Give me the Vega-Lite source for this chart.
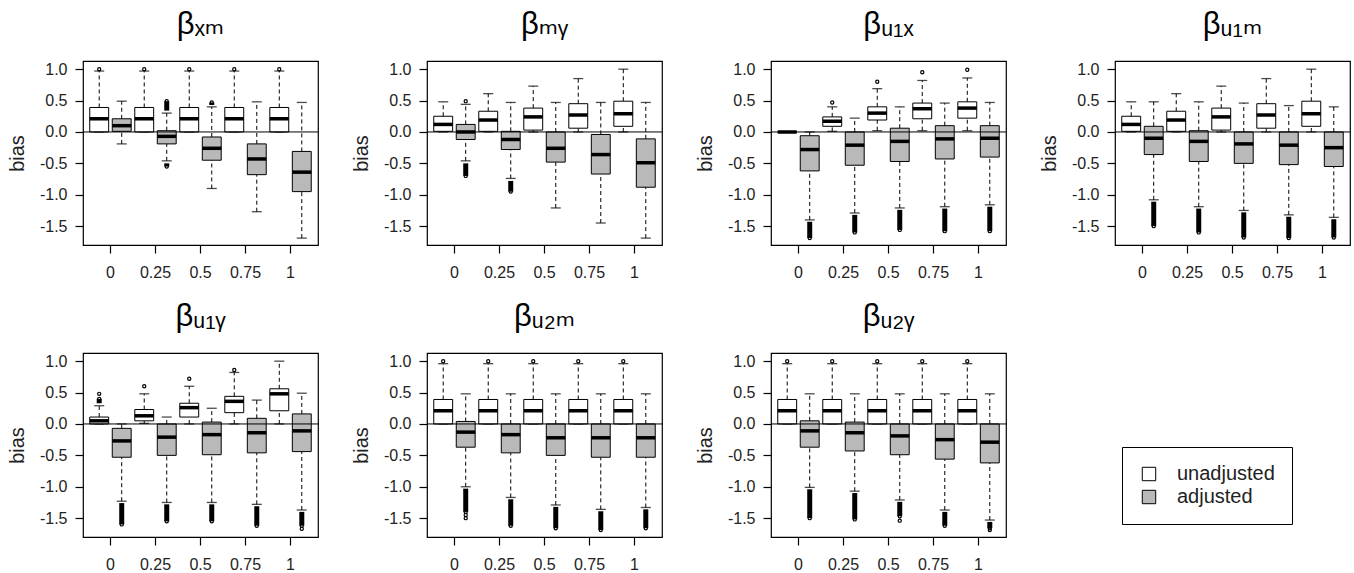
{
  "$schema": "https://vega.github.io/schema/vega-lite/v6.json",
  "padding": {"left": 6, "top": 8, "right": 5, "bottom": 5},
  "background": "white",
  "data": {"values": [
    {"kind":"box","panel":"βₓₘ","level":0,"type":"unadjusted","lo":0,"q1":0,"median":0.21,"q3":0.39,"hi":0.97},
    {"kind":"box","panel":"βₓₘ","level":0.25,"type":"unadjusted","lo":0,"q1":0,"median":0.21,"q3":0.39,"hi":0.97},
    {"kind":"box","panel":"βₓₘ","level":0.5,"type":"unadjusted","lo":0,"q1":0,"median":0.21,"q3":0.39,"hi":0.97},
    {"kind":"box","panel":"βₓₘ","level":0.75,"type":"unadjusted","lo":0,"q1":0,"median":0.21,"q3":0.39,"hi":0.97},
    {"kind":"box","panel":"βₓₘ","level":1,"type":"unadjusted","lo":0,"q1":0,"median":0.21,"q3":0.39,"hi":0.97},
    {"kind":"box","panel":"βₓₘ","level":0,"type":"adjusted","lo":-0.19,"q1":0.01,"median":0.1,"q3":0.21,"hi":0.49},
    {"kind":"box","panel":"βₓₘ","level":0.25,"type":"adjusted","lo":-0.46,"q1":-0.19,"median":-0.07,"q3":0.02,"hi":0.3},
    {"kind":"box","panel":"βₓₘ","level":0.5,"type":"adjusted","lo":-0.9,"q1":-0.45,"median":-0.26,"q3":-0.08,"hi":0.4},
    {"kind":"box","panel":"βₓₘ","level":0.75,"type":"adjusted","lo":-1.27,"q1":-0.68,"median":-0.43,"q3":-0.19,"hi":0.48},
    {"kind":"box","panel":"βₓₘ","level":1,"type":"adjusted","lo":-1.69,"q1":-0.95,"median":-0.64,"q3":-0.31,"hi":0.47},

    {"kind":"box","panel":"βₘᵧ","level":0,"type":"unadjusted","lo":0,"q1":0.01,"median":0.12,"q3":0.25,"hi":0.48},
    {"kind":"box","panel":"βₘᵧ","level":0.25,"type":"unadjusted","lo":0,"q1":0.01,"median":0.19,"q3":0.33,"hi":0.61},
    {"kind":"box","panel":"βₘᵧ","level":0.5,"type":"unadjusted","lo":0,"q1":0.03,"median":0.24,"q3":0.38,"hi":0.73},
    {"kind":"box","panel":"βₘᵧ","level":0.75,"type":"unadjusted","lo":0,"q1":0.06,"median":0.27,"q3":0.45,"hi":0.85},
    {"kind":"box","panel":"βₘᵧ","level":1,"type":"unadjusted","lo":0,"q1":0.09,"median":0.29,"q3":0.49,"hi":1.0},
    {"kind":"box","panel":"βₘᵧ","level":0,"type":"adjusted","lo":-0.46,"q1":-0.12,"median":0.0,"q3":0.12,"hi":0.44},
    {"kind":"box","panel":"βₘᵧ","level":0.25,"type":"adjusted","lo":-0.74,"q1":-0.28,"median":-0.12,"q3":0.01,"hi":0.47},
    {"kind":"box","panel":"βₘᵧ","level":0.5,"type":"adjusted","lo":-1.21,"q1":-0.48,"median":-0.26,"q3":0.0,"hi":0.47},
    {"kind":"box","panel":"βₘᵧ","level":0.75,"type":"adjusted","lo":-1.45,"q1":-0.67,"median":-0.36,"q3":-0.04,"hi":0.47},
    {"kind":"box","panel":"βₘᵧ","level":1,"type":"adjusted","lo":-1.69,"q1":-0.88,"median":-0.49,"q3":-0.11,"hi":0.47},

    {"kind":"box","panel":"βᵤ₁ₓ","level":0,"type":"unadjusted","lo":0,"q1":0,"median":0,"q3":0,"hi":0},
    {"kind":"box","panel":"βᵤ₁ₓ","level":0.25,"type":"unadjusted","lo":0.01,"q1":0.09,"median":0.17,"q3":0.24,"hi":0.4},
    {"kind":"box","panel":"βᵤ₁ₓ","level":0.5,"type":"unadjusted","lo":0.02,"q1":0.19,"median":0.3,"q3":0.4,"hi":0.69},
    {"kind":"box","panel":"βᵤ₁ₓ","level":0.75,"type":"unadjusted","lo":0.02,"q1":0.21,"median":0.37,"q3":0.46,"hi":0.82},
    {"kind":"box","panel":"βᵤ₁ₓ","level":1,"type":"unadjusted","lo":0.02,"q1":0.22,"median":0.38,"q3":0.48,"hi":0.86},
    {"kind":"box","panel":"βᵤ₁ₓ","level":0,"type":"adjusted","lo":-1.4,"q1":-0.62,"median":-0.28,"q3":-0.06,"hi":0.0},
    {"kind":"box","panel":"βᵤ₁ₓ","level":0.25,"type":"adjusted","lo":-1.29,"q1":-0.53,"median":-0.21,"q3":0.0,"hi":0.22},
    {"kind":"box","panel":"βᵤ₁ₓ","level":0.5,"type":"adjusted","lo":-1.21,"q1":-0.47,"median":-0.15,"q3":0.06,"hi":0.4},
    {"kind":"box","panel":"βᵤ₁ₓ","level":0.75,"type":"adjusted","lo":-1.19,"q1":-0.43,"median":-0.11,"q3":0.1,"hi":0.46},
    {"kind":"box","panel":"βᵤ₁ₓ","level":1,"type":"adjusted","lo":-1.16,"q1":-0.4,"median":-0.1,"q3":0.1,"hi":0.47},

    {"kind":"box","panel":"βᵤ₁ₘ","level":0,"type":"unadjusted","lo":0,"q1":0.01,"median":0.12,"q3":0.25,"hi":0.48},
    {"kind":"box","panel":"βᵤ₁ₘ","level":0.25,"type":"unadjusted","lo":0,"q1":0.01,"median":0.19,"q3":0.33,"hi":0.61},
    {"kind":"box","panel":"βᵤ₁ₘ","level":0.5,"type":"unadjusted","lo":0,"q1":0.03,"median":0.24,"q3":0.38,"hi":0.73},
    {"kind":"box","panel":"βᵤ₁ₘ","level":0.75,"type":"unadjusted","lo":0,"q1":0.06,"median":0.27,"q3":0.45,"hi":0.85},
    {"kind":"box","panel":"βᵤ₁ₘ","level":1,"type":"unadjusted","lo":0,"q1":0.09,"median":0.29,"q3":0.49,"hi":1.0},
    {"kind":"box","panel":"βᵤ₁ₘ","level":0,"type":"adjusted","lo":-1.08,"q1":-0.36,"median":-0.1,"q3":0.09,"hi":0.48},
    {"kind":"box","panel":"βᵤ₁ₘ","level":0.25,"type":"adjusted","lo":-1.19,"q1":-0.47,"median":-0.15,"q3":0.02,"hi":0.48},
    {"kind":"box","panel":"βᵤ₁ₘ","level":0.5,"type":"adjusted","lo":-1.25,"q1":-0.5,"median":-0.19,"q3":0.0,"hi":0.46},
    {"kind":"box","panel":"βᵤ₁ₘ","level":0.75,"type":"adjusted","lo":-1.32,"q1":-0.52,"median":-0.21,"q3":0.0,"hi":0.42},
    {"kind":"box","panel":"βᵤ₁ₘ","level":1,"type":"adjusted","lo":-1.36,"q1":-0.55,"median":-0.25,"q3":0.0,"hi":0.4},

    {"kind":"box","panel":"βᵤ₁ᵧ","level":0,"type":"unadjusted","lo":0,"q1":0,"median":0.05,"q3":0.11,"hi":0.29},
    {"kind":"box","panel":"βᵤ₁ᵧ","level":0.25,"type":"unadjusted","lo":0.01,"q1":0.05,"median":0.13,"q3":0.23,"hi":0.48},
    {"kind":"box","panel":"βᵤ₁ᵧ","level":0.5,"type":"unadjusted","lo":0,"q1":0.11,"median":0.26,"q3":0.33,"hi":0.6},
    {"kind":"box","panel":"βᵤ₁ᵧ","level":0.75,"type":"unadjusted","lo":0,"q1":0.18,"median":0.36,"q3":0.44,"hi":0.82},
    {"kind":"box","panel":"βᵤ₁ᵧ","level":1,"type":"unadjusted","lo":0,"q1":0.21,"median":0.48,"q3":0.56,"hi":1.0},
    {"kind":"box","panel":"βᵤ₁ᵧ","level":0,"type":"adjusted","lo":-1.23,"q1":-0.53,"median":-0.27,"q3":-0.07,"hi":0.0},
    {"kind":"box","panel":"βᵤ₁ᵧ","level":0.25,"type":"adjusted","lo":-1.25,"q1":-0.5,"median":-0.21,"q3":0.0,"hi":0.11},
    {"kind":"box","panel":"βᵤ₁ᵧ","level":0.5,"type":"adjusted","lo":-1.25,"q1":-0.49,"median":-0.17,"q3":0.03,"hi":0.25},
    {"kind":"box","panel":"βᵤ₁ᵧ","level":0.75,"type":"adjusted","lo":-1.28,"q1":-0.46,"median":-0.14,"q3":0.09,"hi":0.38},
    {"kind":"box","panel":"βᵤ₁ᵧ","level":1,"type":"adjusted","lo":-1.37,"q1":-0.44,"median":-0.11,"q3":0.16,"hi":0.49},

    {"kind":"box","panel":"βᵤ₂ₘ","level":0,"type":"unadjusted","lo":0,"q1":0,"median":0.21,"q3":0.39,"hi":0.96},
    {"kind":"box","panel":"βᵤ₂ₘ","level":0.25,"type":"unadjusted","lo":0,"q1":0,"median":0.21,"q3":0.39,"hi":0.96},
    {"kind":"box","panel":"βᵤ₂ₘ","level":0.5,"type":"unadjusted","lo":0,"q1":0,"median":0.21,"q3":0.39,"hi":0.96},
    {"kind":"box","panel":"βᵤ₂ₘ","level":0.75,"type":"unadjusted","lo":0,"q1":0,"median":0.21,"q3":0.39,"hi":0.96},
    {"kind":"box","panel":"βᵤ₂ₘ","level":1,"type":"unadjusted","lo":0,"q1":0,"median":0.21,"q3":0.39,"hi":0.96},
    {"kind":"box","panel":"βᵤ₂ₘ","level":0,"type":"adjusted","lo":-1.0,"q1":-0.37,"median":-0.13,"q3":0.04,"hi":0.48},
    {"kind":"box","panel":"βᵤ₂ₘ","level":0.25,"type":"adjusted","lo":-1.17,"q1":-0.46,"median":-0.17,"q3":0.0,"hi":0.48},
    {"kind":"box","panel":"βᵤ₂ₘ","level":0.5,"type":"adjusted","lo":-1.29,"q1":-0.5,"median":-0.22,"q3":0.0,"hi":0.48},
    {"kind":"box","panel":"βᵤ₂ₘ","level":0.75,"type":"adjusted","lo":-1.36,"q1":-0.53,"median":-0.22,"q3":0.0,"hi":0.48},
    {"kind":"box","panel":"βᵤ₂ₘ","level":1,"type":"adjusted","lo":-1.33,"q1":-0.53,"median":-0.22,"q3":0.0,"hi":0.48},

    {"kind":"box","panel":"βᵤ₂ᵧ","level":0,"type":"unadjusted","lo":0,"q1":0,"median":0.21,"q3":0.39,"hi":0.96},
    {"kind":"box","panel":"βᵤ₂ᵧ","level":0.25,"type":"unadjusted","lo":0,"q1":0,"median":0.21,"q3":0.39,"hi":0.96},
    {"kind":"box","panel":"βᵤ₂ᵧ","level":0.5,"type":"unadjusted","lo":0,"q1":0,"median":0.21,"q3":0.39,"hi":0.96},
    {"kind":"box","panel":"βᵤ₂ᵧ","level":0.75,"type":"unadjusted","lo":0,"q1":0,"median":0.21,"q3":0.39,"hi":0.96},
    {"kind":"box","panel":"βᵤ₂ᵧ","level":1,"type":"unadjusted","lo":0,"q1":0,"median":0.21,"q3":0.39,"hi":0.96},
    {"kind":"box","panel":"βᵤ₂ᵧ","level":0,"type":"adjusted","lo":-1.01,"q1":-0.37,"median":-0.11,"q3":0.05,"hi":0.48},
    {"kind":"box","panel":"βᵤ₂ᵧ","level":0.25,"type":"adjusted","lo":-1.07,"q1":-0.43,"median":-0.14,"q3":0.03,"hi":0.48},
    {"kind":"box","panel":"βᵤ₂ᵧ","level":0.5,"type":"adjusted","lo":-1.21,"q1":-0.49,"median":-0.19,"q3":0.0,"hi":0.48},
    {"kind":"box","panel":"βᵤ₂ᵧ","level":0.75,"type":"adjusted","lo":-1.37,"q1":-0.56,"median":-0.25,"q3":0.0,"hi":0.48},
    {"kind":"box","panel":"βᵤ₂ᵧ","level":1,"type":"adjusted","lo":-1.53,"q1":-0.62,"median":-0.29,"q3":0.0,"hi":0.48},

    {"kind":"out","panel":"βₓₘ","level":0,"type":"unadjusted","from":1.0,"to":1.0},
    {"kind":"out","panel":"βₓₘ","level":0.25,"type":"unadjusted","from":1.0,"to":1.0},
    {"kind":"out","panel":"βₓₘ","level":0.5,"type":"unadjusted","from":1.0,"to":1.0},
    {"kind":"out","panel":"βₓₘ","level":0.75,"type":"unadjusted","from":1.0,"to":1.0},
    {"kind":"out","panel":"βₓₘ","level":1,"type":"unadjusted","from":1.0,"to":1.0},
    {"kind":"out","panel":"βₓₘ","level":0.25,"type":"adjusted","from":0.34,"to":0.49},
    {"kind":"out","panel":"βₓₘ","level":0.25,"type":"adjusted","from":-0.5,"to":-0.55},
    {"kind":"out","panel":"βₓₘ","level":0.5,"type":"adjusted","from":0.43,"to":0.47},

    {"kind":"out","panel":"βₘᵧ","level":0,"type":"adjusted","from":0.49,"to":0.49},
    {"kind":"out","panel":"βₘᵧ","level":0,"type":"adjusted","from":-0.5,"to":-0.7},
    {"kind":"out","panel":"βₘᵧ","level":0.25,"type":"adjusted","from":-0.78,"to":-0.95},

    {"kind":"out","panel":"βᵤ₁ₓ","level":0.25,"type":"unadjusted","from":0.47,"to":0.47},
    {"kind":"out","panel":"βᵤ₁ₓ","level":0.5,"type":"unadjusted","from":0.8,"to":0.8},
    {"kind":"out","panel":"βᵤ₁ₓ","level":0.75,"type":"unadjusted","from":0.95,"to":0.95},
    {"kind":"out","panel":"βᵤ₁ₓ","level":1,"type":"unadjusted","from":0.99,"to":0.99},
    {"kind":"out","panel":"βᵤ₁ₓ","level":0,"type":"adjusted","from":-1.43,"to":-1.69},
    {"kind":"out","panel":"βᵤ₁ₓ","level":0.25,"type":"adjusted","from":-1.32,"to":-1.6},
    {"kind":"out","panel":"βᵤ₁ₓ","level":0.5,"type":"adjusted","from":-1.24,"to":-1.56},
    {"kind":"out","panel":"βᵤ₁ₓ","level":0.75,"type":"adjusted","from":-1.22,"to":-1.58},
    {"kind":"out","panel":"βᵤ₁ₓ","level":1,"type":"adjusted","from":-1.19,"to":-1.58},

    {"kind":"out","panel":"βᵤ₁ₘ","level":0,"type":"adjusted","from":-1.11,"to":-1.5},
    {"kind":"out","panel":"βᵤ₁ₘ","level":0.25,"type":"adjusted","from":-1.22,"to":-1.6},
    {"kind":"out","panel":"βᵤ₁ₘ","level":0.5,"type":"adjusted","from":-1.28,"to":-1.68},
    {"kind":"out","panel":"βᵤ₁ₘ","level":0.75,"type":"adjusted","from":-1.35,"to":-1.69},
    {"kind":"out","panel":"βᵤ₁ₘ","level":1,"type":"adjusted","from":-1.39,"to":-1.68},

    {"kind":"out","panel":"βᵤ₁ᵧ","level":0,"type":"unadjusted","from":0.33,"to":0.4},
    {"kind":"out","panel":"βᵤ₁ᵧ","level":0,"type":"unadjusted","from":0.48,"to":0.48},
    {"kind":"out","panel":"βᵤ₁ᵧ","level":0.25,"type":"unadjusted","from":0.6,"to":0.6},
    {"kind":"out","panel":"βᵤ₁ᵧ","level":0.5,"type":"unadjusted","from":0.72,"to":0.72},
    {"kind":"out","panel":"βᵤ₁ᵧ","level":0.75,"type":"unadjusted","from":0.86,"to":0.86},
    {"kind":"out","panel":"βᵤ₁ᵧ","level":0,"type":"adjusted","from":-1.26,"to":-1.6},
    {"kind":"out","panel":"βᵤ₁ᵧ","level":0.25,"type":"adjusted","from":-1.28,"to":-1.55},
    {"kind":"out","panel":"βᵤ₁ᵧ","level":0.5,"type":"adjusted","from":-1.28,"to":-1.55},
    {"kind":"out","panel":"βᵤ₁ᵧ","level":0.75,"type":"adjusted","from":-1.31,"to":-1.62},
    {"kind":"out","panel":"βᵤ₁ᵧ","level":1,"type":"adjusted","from":-1.4,"to":-1.62},
    {"kind":"out","panel":"βᵤ₁ᵧ","level":1,"type":"adjusted","from":-1.67,"to":-1.67},

    {"kind":"out","panel":"βᵤ₂ₘ","level":0,"type":"unadjusted","from":1.0,"to":1.0},
    {"kind":"out","panel":"βᵤ₂ₘ","level":0.25,"type":"unadjusted","from":1.0,"to":1.0},
    {"kind":"out","panel":"βᵤ₂ₘ","level":0.5,"type":"unadjusted","from":1.0,"to":1.0},
    {"kind":"out","panel":"βᵤ₂ₘ","level":0.75,"type":"unadjusted","from":1.0,"to":1.0},
    {"kind":"out","panel":"βᵤ₂ₘ","level":1,"type":"unadjusted","from":1.0,"to":1.0},
    {"kind":"out","panel":"βᵤ₂ₘ","level":0,"type":"adjusted","from":-1.03,"to":-1.4},
    {"kind":"out","panel":"βᵤ₂ₘ","level":0,"type":"adjusted","from":-1.45,"to":-1.45},
    {"kind":"out","panel":"βᵤ₂ₘ","level":0,"type":"adjusted","from":-1.5,"to":-1.5},
    {"kind":"out","panel":"βᵤ₂ₘ","level":0.25,"type":"adjusted","from":-1.2,"to":-1.62},
    {"kind":"out","panel":"βᵤ₂ₘ","level":0.5,"type":"adjusted","from":-1.32,"to":-1.66},
    {"kind":"out","panel":"βᵤ₂ₘ","level":0.75,"type":"adjusted","from":-1.39,"to":-1.69},
    {"kind":"out","panel":"βᵤ₂ₘ","level":1,"type":"adjusted","from":-1.36,"to":-1.66},

    {"kind":"out","panel":"βᵤ₂ᵧ","level":0,"type":"unadjusted","from":1.0,"to":1.0},
    {"kind":"out","panel":"βᵤ₂ᵧ","level":0.25,"type":"unadjusted","from":1.0,"to":1.0},
    {"kind":"out","panel":"βᵤ₂ᵧ","level":0.5,"type":"unadjusted","from":1.0,"to":1.0},
    {"kind":"out","panel":"βᵤ₂ᵧ","level":0.75,"type":"unadjusted","from":1.0,"to":1.0},
    {"kind":"out","panel":"βᵤ₂ᵧ","level":1,"type":"unadjusted","from":1.0,"to":1.0},
    {"kind":"out","panel":"βᵤ₂ᵧ","level":0,"type":"adjusted","from":-1.04,"to":-1.5},
    {"kind":"out","panel":"βᵤ₂ᵧ","level":0.25,"type":"adjusted","from":-1.1,"to":-1.52},
    {"kind":"out","panel":"βᵤ₂ᵧ","level":0.5,"type":"adjusted","from":-1.24,"to":-1.47},
    {"kind":"out","panel":"βᵤ₂ᵧ","level":0.5,"type":"adjusted","from":-1.54,"to":-1.54},
    {"kind":"out","panel":"βᵤ₂ᵧ","level":0.75,"type":"adjusted","from":-1.4,"to":-1.62},
    {"kind":"out","panel":"βᵤ₂ᵧ","level":1,"type":"adjusted","from":-1.56,"to":-1.66},
    {"kind":"out","panel":"βᵤ₂ᵧ","level":1,"type":"adjusted","from":-1.69,"to":-1.69}
  ]},
  "facet": {
    "field": "panel",
    "type": "nominal",
    "sort": ["βₓₘ", "βₘᵧ", "βᵤ₁ₓ", "βᵤ₁ₘ", "βᵤ₁ᵧ", "βᵤ₂ₘ", "βᵤ₂ᵧ"],
    "header": {"title": null, "labelFontSize": 31, "labelFont": "Liberation Sans, DejaVu Sans", "labelColor": "black", "labelPadding": 20}
  },
  "columns": 4,
  "spacing": {"column": 30, "row": 19},
  "resolve": {"axis": {"x": "independent", "y": "independent"}},
  "spec": {
    "width": 235,
    "height": 184,
    "layer": [
      {
        "transform": [{"filter": "datum.kind === 'box'"}],
        "mark": {"type": "rule", "strokeDash": [4, 3], "color": "black", "strokeWidth": 1},
        "encoding": {
          "x": {"field": "level", "type": "ordinal", "scale": {"paddingInner": 0, "paddingOuter": 0.11}, "axis": {"title": null, "labelAngle": 0}},
          "xOffset": {"field": "type", "type": "nominal", "sort": ["unadjusted", "adjusted"], "scale": {"paddingInner": 0.16, "paddingOuter": 0.08}},
          "y": {"field": "q3", "type": "quantitative", "scale": {"domain": [-1.8, 1.13], "nice": false, "zero": false}, "axis": {"title": "bias", "tickCount": 6, "labelExpr": "replace(format(datum.value, '.1f'), '\u2212', '-')", "labelOverlap": false, "labelSeparation": 0, "labelBound": false}},
          "y2": {"field": "hi"}
        }
      },
      {
        "transform": [{"filter": "datum.kind === 'box'"}],
        "mark": {"type": "rule", "strokeDash": [4, 3], "color": "black", "strokeWidth": 1},
        "encoding": {
          "x": {"field": "level", "type": "ordinal"},
          "xOffset": {"field": "type", "type": "nominal", "sort": ["unadjusted", "adjusted"]},
          "y": {"field": "lo", "type": "quantitative", "title": "bias"},
          "y2": {"field": "q1"}
        }
      },
      {
        "transform": [{"filter": "datum.kind === 'box'"}],
        "mark": {"type": "tick", "color": "black", "size": 10, "thickness": 1.3},
        "encoding": {
          "x": {"field": "level", "type": "ordinal"},
          "xOffset": {"field": "type", "type": "nominal", "sort": ["unadjusted", "adjusted"]},
          "y": {"field": "hi", "type": "quantitative", "title": "bias"}
        }
      },
      {
        "transform": [{"filter": "datum.kind === 'box'"}],
        "mark": {"type": "tick", "color": "black", "size": 10, "thickness": 1.3},
        "encoding": {
          "x": {"field": "level", "type": "ordinal"},
          "xOffset": {"field": "type", "type": "nominal", "sort": ["unadjusted", "adjusted"]},
          "y": {"field": "lo", "type": "quantitative", "title": "bias"}
        }
      },
      {
        "transform": [{"filter": "datum.kind === 'out'"}],
        "mark": {"type": "rule", "color": "black", "strokeWidth": 5},
        "encoding": {
          "x": {"field": "level", "type": "ordinal"},
          "xOffset": {"field": "type", "type": "nominal", "sort": ["unadjusted", "adjusted"]},
          "y": {"field": "from", "type": "quantitative", "title": "bias"},
          "y2": {"field": "to"}
        }
      },
      {
        "transform": [{"filter": "datum.kind === 'out'"}],
        "mark": {"type": "point", "color": "black", "filled": false, "size": 10, "strokeWidth": 1.2, "opacity": 1},
        "encoding": {
          "x": {"field": "level", "type": "ordinal"},
          "xOffset": {"field": "type", "type": "nominal", "sort": ["unadjusted", "adjusted"]},
          "y": {"field": "to", "type": "quantitative", "title": "bias"}
        }
      },
      {
        "transform": [{"filter": "datum.kind === 'box'"}],
        "mark": {"type": "bar", "stroke": "black", "strokeWidth": 1, "opacity": 1},
        "encoding": {
          "x": {"field": "level", "type": "ordinal"},
          "xOffset": {"field": "type", "type": "nominal", "sort": ["unadjusted", "adjusted"]},
          "y": {"field": "q1", "type": "quantitative", "title": "bias"},
          "y2": {"field": "q3"},
          "fill": {"field": "type", "type": "nominal", "sort": ["unadjusted", "adjusted"], "scale": {"domain": ["unadjusted", "adjusted"], "range": ["white", "#b9b9b9"]}, "legend": {"title": null}}
        }
      },
      {
        "transform": [{"filter": "datum.kind === 'box'"}],
        "mark": {"type": "tick", "color": "black", "size": 19, "thickness": 3.5, "opacity": 1},
        "encoding": {
          "x": {"field": "level", "type": "ordinal"},
          "xOffset": {"field": "type", "type": "nominal", "sort": ["unadjusted", "adjusted"]},
          "y": {"field": "median", "type": "quantitative", "title": "bias"}
        }
      },
      {
        "transform": [{"filter": "datum.kind === 'box' && datum.level === 0 && datum.type === 'adjusted'"}],
        "mark": {"type": "rule", "color": "black", "strokeWidth": 1},
        "encoding": {"y": {"datum": 0, "type": "quantitative", "title": "bias"}}
      }
    ]
  },
  "config": {
    "font": "Liberation Sans",
    "view": {"stroke": "black", "strokeWidth": 1.2},
    "axis": {
      "domain": false,
      "grid": false,
      "ticks": true,
      "tickColor": "black",
      "tickSize": 8,
      "tickWidth": 1.2,
      "labelFontSize": 16,
      "labelColor": "#222",
      "labelFont": "Liberation Sans",
      "titleFont": "Liberation Sans",
      "titleFontSize": 20,
      "titleFontWeight": "normal",
      "titleColor": "#222",
      "labelOverlap": false
    },
    "axisX": {"labelPadding": 11},
    "axisY": {"labelPadding": 8, "titlePadding": 12, "labelOverlap": false},
    "axisQuantitative": {"labelOverlap": false},
    "legend": {
      "orient": "none",
      "legendX": 1039,
      "legendY": 386,
      "strokeColor": "black",
      "padding": 17,
      "symbolType": "square",
      "symbolSize": 180,
      "symbolStrokeColor": "black",
      "symbolStrokeWidth": 1,
      "labelFontSize": 20,
      "labelColor": "#222",
      "labelOffset": 18,
      "rowPadding": 3
    }
  }
}
